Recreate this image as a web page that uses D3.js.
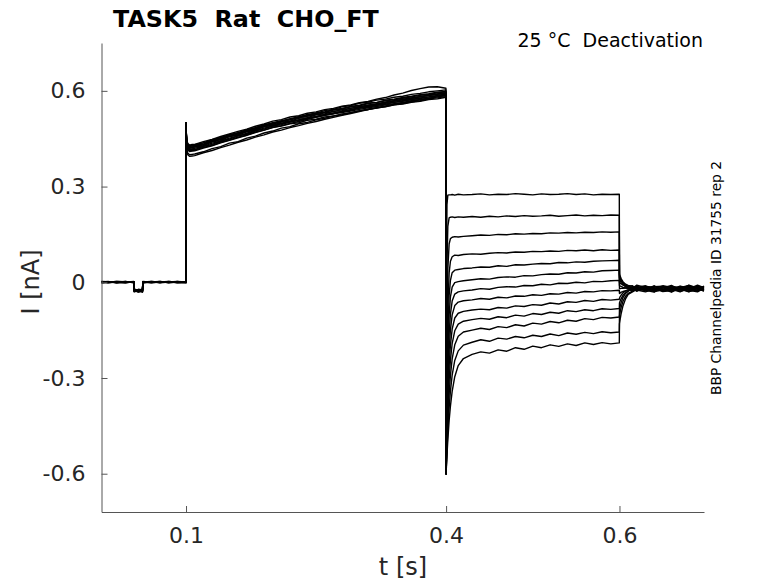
<!DOCTYPE html>
<html><head><meta charset="utf-8">
<script src="https://cdn.jsdelivr.net/npm/d3@7"></script>
<style>
body{margin:0;background:#fff}
svg{display:block;font-family:"DejaVu Sans",sans-serif}
</style>
</head><body>
<svg id="chart" width="778" height="583"></svg>
<script>
// ---------------- data ----------------
const xTicks = [0.1, 0.4, 0.6];
const yTicks = [-0.6, -0.3, 0, 0.3, 0.6];
const titleText = "TASK5  Rat  CHO_FT";
const condText = "25 °C  Deactivation";
const idText = "BBP Channelpedia ID 31755 rep 2";

// time grids (s) for the four protocol segments
const tPre = [0.0025, 0.01, 0.02, 0.03, 0.0398, 0.0402, 0.045, 0.0498, 0.0502, 0.06, 0.07, 0.08, 0.09, 0.0999];
const tAct = [0.1, 0.1003, 0.101, 0.102, 0.104, 0.107,
  0.11, 0.12, 0.13, 0.14, 0.15, 0.16, 0.17, 0.18, 0.19, 0.20, 0.21, 0.22, 0.23, 0.24, 0.25,
  0.26, 0.27, 0.28, 0.29, 0.30, 0.31, 0.32, 0.33, 0.34, 0.35, 0.36, 0.37, 0.38, 0.39, 0.3998];
const tDeact = [0.4, 0.4003, 0.401, 0.402, 0.4035, 0.405, 0.407, 0.41, 0.414, 0.42,
  0.43, 0.44, 0.45, 0.46, 0.47, 0.48, 0.49, 0.50, 0.51, 0.52, 0.53, 0.54, 0.55, 0.56, 0.57, 0.58, 0.59, 0.5998];
const tTail = [0.6, 0.601, 0.602, 0.604, 0.607, 0.61, 0.615, 0.62, 0.63, 0.64, 0.65, 0.66, 0.67, 0.68, 0.69, 0.6975];

// currents (nA), one row per sweep
const preI = [
  [0.002, 0.000, 0.003, 0.001, 0.002, -0.024, -0.027, -0.022, 0.001, 0.003, 0.000, 0.002, -0.001, 0.001],
  [0.000, 0.003, -0.001, 0.002, 0.000, -0.027, -0.023, -0.026, -0.001, 0.001, 0.003, 0.000, 0.002, 0.000],
  [-0.002, 0.001, 0.002, -0.001, 0.001, -0.022, -0.028, -0.025, 0.002, -0.001, 0.001, 0.003, 0.000, 0.002],
  [0.003, -0.001, 0.000, 0.003, -0.001, -0.026, -0.024, -0.029, 0.000, 0.002, -0.002, 0.001, 0.003, -0.001],
  [0.001, 0.002, -0.002, 0.000, 0.003, -0.030, -0.026, -0.023, 0.003, 0.000, 0.002, -0.001, 0.001, 0.003],
  [-0.001, 0.000, 0.001, 0.002, -0.002, -0.025, -0.030, -0.027, -0.002, 0.001, 0.000, 0.002, -0.002, 0.000],
  [0.002, -0.002, 0.002, 0.000, 0.001, -0.023, -0.025, -0.031, 0.001, -0.002, 0.001, 0.000, 0.002, 0.001],
  [0.000, 0.001, 0.000, -0.002, 0.002, -0.028, -0.022, -0.024, 0.000, 0.002, -0.001, 0.003, 0.000, -0.002],
  [0.003, 0.002, -0.001, 0.001, 0.000, -0.024, -0.029, -0.026, 0.002, 0.000, 0.003, -0.002, 0.001, 0.002],
  [-0.002, 0.000, 0.003, 0.002, 0.001, -0.029, -0.027, -0.021, -0.001, 0.003, 0.000, 0.001, -0.001, 0.000],
  [0.001, -0.001, 0.001, -0.001, 0.002, -0.026, -0.031, -0.028, 0.001, -0.001, 0.002, 0.000, 0.002, 0.001],
  [0.000, 0.002, -0.002, 0.003, -0.001, -0.021, -0.026, -0.030, 0.002, 0.001, -0.001, 0.002, 0.000, -0.001],
  [0.002, 0.001, 0.000, -0.001, 0.001, -0.027, -0.024, -0.025, -0.002, 0.002, 0.001, -0.001, 0.003, 0.001]
];

const actI = [
  [0.50, 0.47, 0.44, 0.43, 0.425, 0.427, 0.428, 0.433, 0.445, 0.450, 0.462, 0.466, 0.477, 0.482, 0.493, 0.497, 0.506, 0.510, 0.519, 0.522, 0.531, 0.534, 0.541, 0.545, 0.551, 0.555, 0.562, 0.564, 0.571, 0.574, 0.579, 0.583, 0.588, 0.591, 0.596, 0.598],
  [0.49, 0.46, 0.435, 0.425, 0.42, 0.421, 0.424, 0.428, 0.440, 0.444, 0.457, 0.461, 0.472, 0.477, 0.488, 0.492, 0.502, 0.505, 0.514, 0.516, 0.525, 0.528, 0.536, 0.538, 0.546, 0.549, 0.556, 0.558, 0.565, 0.568, 0.573, 0.577, 0.582, 0.585, 0.590, 0.592],
  [0.495, 0.455, 0.43, 0.42, 0.415, 0.416, 0.416, 0.426, 0.432, 0.442, 0.449, 0.459, 0.464, 0.475, 0.480, 0.490, 0.494, 0.503, 0.507, 0.514, 0.518, 0.526, 0.529, 0.536, 0.539, 0.546, 0.549, 0.555, 0.558, 0.564, 0.567, 0.573, 0.576, 0.581, 0.584, 0.588],
  [0.50, 0.468, 0.443, 0.433, 0.428, 0.43, 0.431, 0.437, 0.447, 0.453, 0.463, 0.468, 0.478, 0.484, 0.493, 0.499, 0.505, 0.510, 0.516, 0.521, 0.526, 0.531, 0.535, 0.541, 0.545, 0.551, 0.554, 0.560, 0.563, 0.569, 0.572, 0.577, 0.581, 0.586, 0.589, 0.593],
  [0.48, 0.44, 0.415, 0.405, 0.40, 0.401, 0.402, 0.409, 0.419, 0.425, 0.436, 0.441, 0.452, 0.458, 0.468, 0.474, 0.483, 0.488, 0.497, 0.501, 0.509, 0.514, 0.521, 0.525, 0.532, 0.537, 0.543, 0.547, 0.553, 0.558, 0.562, 0.568, 0.572, 0.577, 0.581, 0.585],
  [0.50, 0.463, 0.438, 0.428, 0.423, 0.424, 0.426, 0.431, 0.442, 0.448, 0.458, 0.464, 0.474, 0.480, 0.490, 0.496, 0.504, 0.509, 0.517, 0.521, 0.529, 0.533, 0.540, 0.543, 0.550, 0.553, 0.560, 0.563, 0.569, 0.572, 0.577, 0.581, 0.586, 0.589, 0.594, 0.597],
  [0.49, 0.452, 0.427, 0.417, 0.412, 0.413, 0.414, 0.423, 0.429, 0.439, 0.446, 0.455, 0.461, 0.471, 0.477, 0.486, 0.490, 0.497, 0.500, 0.508, 0.511, 0.518, 0.521, 0.528, 0.531, 0.538, 0.541, 0.547, 0.550, 0.556, 0.559, 0.564, 0.567, 0.573, 0.575, 0.58],
  [0.50, 0.47, 0.445, 0.435, 0.43, 0.432, 0.432, 0.441, 0.448, 0.457, 0.465, 0.473, 0.480, 0.489, 0.496, 0.505, 0.510, 0.518, 0.522, 0.530, 0.534, 0.541, 0.545, 0.552, 0.556, 0.563, 0.567, 0.574, 0.579, 0.587, 0.593, 0.601, 0.607, 0.612, 0.613, 0.608],
  [0.495, 0.458, 0.432, 0.422, 0.417, 0.418, 0.420, 0.426, 0.436, 0.442, 0.452, 0.459, 0.467, 0.475, 0.483, 0.490, 0.497, 0.502, 0.509, 0.514, 0.520, 0.525, 0.531, 0.535, 0.541, 0.546, 0.551, 0.555, 0.561, 0.564, 0.569, 0.573, 0.578, 0.581, 0.586, 0.59],
  [0.47, 0.435, 0.41, 0.40, 0.395, 0.396, 0.397, 0.406, 0.413, 0.422, 0.430, 0.439, 0.446, 0.455, 0.462, 0.471, 0.477, 0.485, 0.491, 0.498, 0.504, 0.511, 0.517, 0.523, 0.529, 0.535, 0.541, 0.546, 0.551, 0.556, 0.560, 0.566, 0.569, 0.575, 0.578, 0.582],
  [0.50, 0.462, 0.437, 0.427, 0.422, 0.423, 0.425, 0.431, 0.441, 0.447, 0.457, 0.463, 0.472, 0.478, 0.487, 0.493, 0.499, 0.504, 0.509, 0.514, 0.519, 0.523, 0.528, 0.532, 0.537, 0.542, 0.547, 0.551, 0.556, 0.560, 0.564, 0.569, 0.573, 0.577, 0.581, 0.586],
  [0.485, 0.45, 0.425, 0.415, 0.41, 0.411, 0.412, 0.421, 0.428, 0.437, 0.445, 0.453, 0.461, 0.469, 0.477, 0.485, 0.491, 0.498, 0.504, 0.511, 0.517, 0.523, 0.529, 0.535, 0.541, 0.547, 0.552, 0.558, 0.563, 0.568, 0.573, 0.578, 0.582, 0.587, 0.590, 0.594],
  [0.50, 0.466, 0.441, 0.431, 0.426, 0.428, 0.428, 0.437, 0.444, 0.453, 0.461, 0.469, 0.476, 0.485, 0.492, 0.500, 0.506, 0.513, 0.518, 0.526, 0.530, 0.538, 0.542, 0.550, 0.554, 0.561, 0.565, 0.571, 0.574, 0.580, 0.583, 0.589, 0.592, 0.597, 0.600, 0.603]
];

const deactI = [
  [-0.6, -0.048, 0.243, 0.273, 0.274, 0.274, 0.275, 0.273, 0.276, 0.274, 0.275, 0.277, 0.274, 0.276, 0.275, 0.278, 0.276, 0.274, 0.277, 0.275, 0.276, 0.278, 0.275, 0.277, 0.274, 0.276, 0.275, 0.276],
  [-0.6, -0.284, 0.052, 0.175, 0.202, 0.204, 0.205, 0.203, 0.205, 0.204, 0.206, 0.204, 0.207, 0.205, 0.208, 0.206, 0.209, 0.207, 0.208, 0.210, 0.207, 0.209, 0.211, 0.208, 0.210, 0.209, 0.211, 0.210],
  [-0.6, -0.408, -0.131, 0.042, 0.120, 0.137, 0.141, 0.143, 0.142, 0.144, 0.146, 0.148, 0.147, 0.150, 0.149, 0.152, 0.151, 0.153, 0.152, 0.155, 0.154, 0.156, 0.155, 0.157, 0.156, 0.158, 0.157, 0.158],
  [-0.6, -0.468, -0.251, -0.079, 0.029, 0.066, 0.080, 0.085, 0.084, 0.087, 0.089, 0.088, 0.091, 0.093, 0.092, 0.095, 0.094, 0.097, 0.096, 0.098, 0.097, 0.100, 0.099, 0.101, 0.099, 0.102, 0.100, 0.101],
  [-0.6, -0.496, -0.315, -0.157, -0.042, 0.006, 0.030, 0.038, 0.040, 0.043, 0.045, 0.048, 0.047, 0.052, 0.050, 0.055, 0.054, 0.057, 0.059, 0.058, 0.062, 0.061, 0.064, 0.063, 0.066, 0.067, 0.068, 0.069],
  [-0.6, -0.516, -0.363, -0.219, -0.102, -0.046, -0.015, -0.001, 0.002, 0.005, 0.008, 0.011, 0.010, 0.015, 0.017, 0.016, 0.021, 0.020, 0.024, 0.026, 0.025, 0.030, 0.029, 0.033, 0.032, 0.036, 0.037, 0.038],
  [-0.6, -0.533, -0.405, -0.277, -0.161, -0.100, -0.059, -0.037, -0.030, -0.027, -0.024, -0.020, -0.022, -0.016, -0.014, -0.015, -0.010, -0.011, -0.006, -0.008, -0.003, -0.004, 0.000, -0.002, 0.003, 0.002, 0.005, 0.006],
  [-0.6, -0.545, -0.437, -0.324, -0.214, -0.149, -0.102, -0.073, -0.062, -0.058, -0.055, -0.051, -0.053, -0.047, -0.049, -0.043, -0.044, -0.039, -0.041, -0.036, -0.037, -0.032, -0.034, -0.029, -0.030, -0.026, -0.027, -0.025],
  [-0.6, -0.555, -0.463, -0.363, -0.261, -0.197, -0.147, -0.112, -0.097, -0.091, -0.087, -0.084, -0.086, -0.079, -0.081, -0.074, -0.076, -0.070, -0.072, -0.065, -0.068, -0.061, -0.063, -0.057, -0.060, -0.054, -0.056, -0.053],
  [-0.6, -0.563, -0.486, -0.399, -0.306, -0.244, -0.192, -0.152, -0.131, -0.122, -0.117, -0.113, -0.116, -0.108, -0.111, -0.103, -0.106, -0.098, -0.101, -0.094, -0.097, -0.089, -0.092, -0.086, -0.089, -0.083, -0.085, -0.082],
  [-0.6, -0.570, -0.507, -0.433, -0.350, -0.292, -0.240, -0.196, -0.169, -0.156, -0.150, -0.144, -0.148, -0.139, -0.142, -0.133, -0.137, -0.128, -0.131, -0.123, -0.127, -0.119, -0.122, -0.114, -0.117, -0.110, -0.112, -0.109],
  [-0.6, -0.576, -0.526, -0.465, -0.394, -0.341, -0.291, -0.245, -0.215, -0.197, -0.188, -0.180, -0.185, -0.175, -0.178, -0.170, -0.174, -0.166, -0.170, -0.162, -0.167, -0.159, -0.163, -0.157, -0.161, -0.155, -0.158, -0.156],
  [-0.6, -0.582, -0.542, -0.494, -0.434, -0.388, -0.342, -0.296, -0.261, -0.239, -0.226, -0.218, -0.222, -0.212, -0.216, -0.205, -0.210, -0.200, -0.205, -0.196, -0.201, -0.193, -0.198, -0.190, -0.195, -0.189, -0.193, -0.190]
];

const tailI = [
  [0.025, 0.018, 0.011, 0.002, -0.006, -0.010, -0.013, -0.016, -0.011, -0.020, -0.024, -0.013, -0.017, -0.010, -0.022, -0.014],
  [0.020, 0.013, 0.007, -0.002, -0.010, -0.015, -0.022, -0.014, -0.019, -0.026, -0.015, -0.021, -0.012, -0.018, -0.027, -0.020],
  [0.015, 0.009, 0.004, -0.003, -0.010, -0.013, -0.011, -0.022, -0.025, -0.014, -0.012, -0.023, -0.019, -0.024, -0.012, -0.016],
  [0.010, 0.004, -0.001, -0.008, -0.014, -0.018, -0.025, -0.020, -0.013, -0.017, -0.029, -0.026, -0.016, -0.012, -0.021, -0.027],
  [0.000, -0.003, -0.005, -0.008, -0.011, -0.013, -0.019, -0.009, -0.016, -0.023, -0.018, -0.010, -0.024, -0.021, -0.009, -0.017],
  [-0.010, -0.012, -0.013, -0.016, -0.018, -0.019, -0.016, -0.026, -0.021, -0.012, -0.022, -0.027, -0.015, -0.019, -0.028, -0.013],
  [-0.020, -0.020, -0.019, -0.019, -0.018, -0.018, -0.023, -0.012, -0.027, -0.020, -0.011, -0.016, -0.025, -0.009, -0.018, -0.023],
  [-0.035, -0.033, -0.031, -0.029, -0.027, -0.026, -0.020, -0.028, -0.017, -0.029, -0.024, -0.014, -0.021, -0.030, -0.016, -0.022],
  [-0.050, -0.044, -0.040, -0.033, -0.027, -0.023, -0.027, -0.015, -0.022, -0.011, -0.026, -0.019, -0.028, -0.022, -0.013, -0.025],
  [-0.065, -0.057, -0.051, -0.041, -0.033, -0.028, -0.018, -0.024, -0.030, -0.021, -0.016, -0.029, -0.013, -0.025, -0.030, -0.018],
  [-0.085, -0.073, -0.063, -0.048, -0.035, -0.027, -0.021, -0.027, -0.013, -0.018, -0.028, -0.022, -0.030, -0.016, -0.020, -0.028],
  [-0.105, -0.090, -0.078, -0.060, -0.044, -0.035, -0.028, -0.019, -0.025, -0.031, -0.014, -0.024, -0.020, -0.029, -0.023, -0.012],
  [-0.130, -0.112, -0.097, -0.074, -0.052, -0.038, -0.030, -0.022, -0.017, -0.026, -0.021, -0.031, -0.018, -0.013, -0.027, -0.021]
];

// ---------------- drawing ----------------
const svg = d3.select("#chart");
const x = d3.scaleLinear().domain([0.0025, 0.6975]).range([101.5, 704]);
const y = d3.scaleLinear().domain([-0.72, 0.75]).range([512, 43]);

const pair = (ts, vs) => ts.map((t, j) => [t, vs[j]]);
const sweeps = preI.map((p, i) =>
  pair(tPre, p).concat(pair(tAct, actI[i]), pair(tDeact, deactI[i]), pair(tTail, tailI[i])));

const line = d3.line().x(d => x(d[0])).y(d => y(d[1]));
svg.append("g").selectAll("path").data(sweeps).join("path")
  .attr("d", line).attr("fill", "none").attr("stroke", "#000")
  .attr("stroke-width", 1.4).attr("stroke-linejoin", "round");

const axisColor = "#555", textColor = "#262626";
const gx = svg.append("g").attr("transform", `translate(0,${y.range()[0]})`)
  .call(d3.axisBottom(x).tickValues(xTicks).tickSizeInner(-6).tickSizeOuter(0).tickPadding(15).tickFormat(d3.format("")));
const gy = svg.append("g").attr("transform", `translate(${x.range()[0]},0)`)
  .call(d3.axisLeft(y).tickValues(yTicks).tickSizeInner(-6).tickSizeOuter(0).tickPadding(16).tickFormat(d => d === 0 ? "0" : d3.format(".1f")(d).replace("−", "-")));
[gx, gy].forEach(g => {
  g.select(".domain").attr("stroke", axisColor);
  g.selectAll(".tick line").attr("stroke", axisColor);
  g.selectAll(".tick text").attr("fill", textColor).style("font-size", "22px").style("font-family", "DejaVu Sans");
});

svg.append("text").attr("x", 113).attr("y", 27).style("white-space", "pre")
  .style("font-weight", "bold").style("font-size", "23.8px").attr("fill", "#000").text(titleText);
svg.append("text").attr("x", 703).attr("y", 47).attr("text-anchor", "end").style("white-space", "pre")
  .style("font-size", "19px").attr("fill", "#000").text(condText);
svg.append("text").attr("transform", "translate(721,278) rotate(-90)").attr("text-anchor", "middle")
  .style("font-size", "13.8px").attr("fill", "#000").text(idText);
svg.append("text").attr("transform", "translate(39,282) rotate(-90)").attr("text-anchor", "middle")
  .style("font-size", "24px").attr("fill", textColor).text("I [nA]");
svg.append("text").attr("x", 403).attr("y", 575).attr("text-anchor", "middle")
  .style("font-size", "24px").attr("fill", textColor).text("t [s]");
</script>
</body></html>
